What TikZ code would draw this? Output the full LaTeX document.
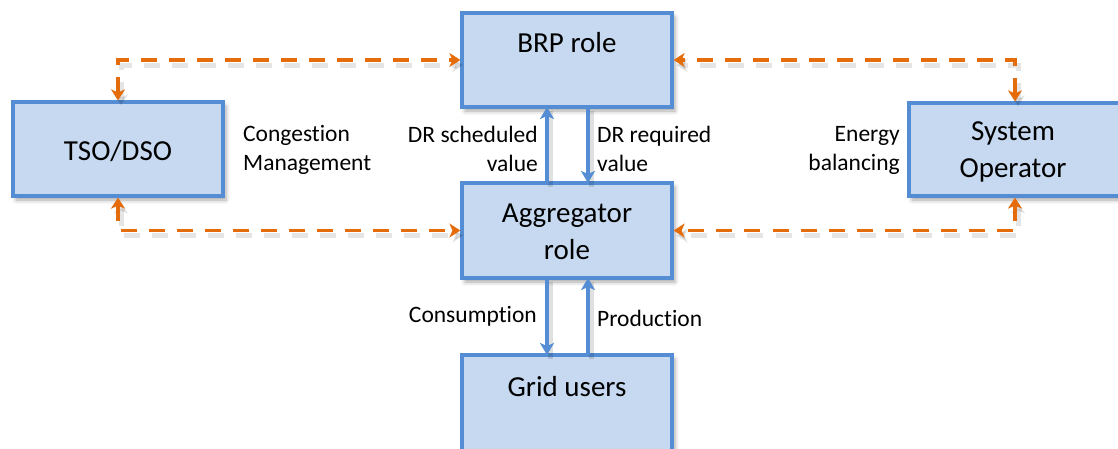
\documentclass[tikz,border=0pt]{standalone}
\usepackage{fontspec}
\setmainfont{Carlito}[Ligatures={NoCommon}]
\usetikzlibrary{arrows.meta,shadows.blur}

\definecolor{boxfill}{RGB}{198,217,241}
\definecolor{boxline}{RGB}{84,141,212}
\definecolor{flow}{RGB}{228,108,10}

\tikzset{
  ctrltip/.tip={Stealth[length=11pt,width=14pt,inset=3pt]},
  rolebox/.style={draw=boxline, fill=boxfill, line width=3.2pt, inner sep=0pt,
    blur shadow={shadow xshift=3pt, shadow yshift=-4pt, shadow blur radius=4pt, shadow opacity=35}},
  boxtext/.style={inner sep=0pt, align=center, font=\fontsize{29}{37}\selectfont},
  note/.style={inner sep=0pt, font=\fontsize{23.5}{29}\selectfont},
  dataflow/.style={draw=boxline, line width=3.2pt,
    -{Stealth[length=12pt,width=14pt,inset=3pt]},
    preaction={draw=black, opacity=0.12, line width=5pt, -,
      transform canvas={shift={(3pt,-4pt)}}}},
  ctrlflow/.style={draw=flow, line width=3.6pt, dash pattern=on 16pt off 12pt,
    ctrltip-ctrltip,
    preaction={draw=black, opacity=0.1, line width=5pt, dash pattern=on 16pt off 12pt,
      transform canvas={shift={(3pt,-5pt)}}}}
}

\begin{document}
\begin{tikzpicture}[x=1pt,y=-1pt]
  \useasboundingbox (0,0) rectangle (1118,448);
  \clip (0,0) rectangle (1118,448);

  % role boxes
  \node[rolebox, minimum width=210pt, minimum height=94pt] (brp) at (567,60) {};
  \node[rolebox, minimum width=210pt, minimum height=95pt] (agg) at (567,230.5) {};
  \node[rolebox, minimum width=210pt, minimum height=110pt] (grid) at (567,410) {};
  \node[rolebox, minimum width=210pt, minimum height=94pt] (tso) at (118,149) {};
  \node[rolebox, minimum width=212pt, minimum height=93pt] (so) at (1015,149.5) {};

  % box titles
  \node[boxtext] (brpt) at (567,43) {BRP role};
  \node[boxtext] (aggt) at (567,232) {Aggregator\\role};
  \node[boxtext] (gridt) at (567,387) {Grid users};
  \node[boxtext] (tsot) at (118,151) {TSO/DSO};
  \node[boxtext] (sot) at (1013,152) {System\\Operator};

  % control links (dashed, both directions)
  \draw[ctrlflow] (tso.north) |- (brp.west);
  \draw[ctrlflow] (tso.south) |- (agg.west);
  \draw[ctrlflow] (so.north) |- (brp.east);
  \draw[ctrlflow] (so.south) |- (agg.east);

  % data links
  \coordinate (aggTopL) at (547,183);
  \coordinate (brpBotL) at (547,107);
  \coordinate (brpBotR) at (588,107);
  \coordinate (aggTopR) at (588,183);
  \coordinate (aggBotL) at (547,278);
  \coordinate (gridTopL) at (547,355);
  \coordinate (gridTopR) at (588,355);
  \coordinate (aggBotR) at (588,278);
  \draw[dataflow] (aggTopL) -- (brpBotL);
  \draw[dataflow] (brpBotR) -- (aggTopR);
  \draw[dataflow] (aggBotL) -- (gridTopL);
  \draw[dataflow] (gridTopR) -- (aggBotR);

  % link labels
  \node[note, anchor=west, align=left] (cong) at (243,150) {Congestion\\Management};
  \node[note, anchor=east, align=right] (bal) at (900,150) {Energy\\balancing};
  \node[note, anchor=east, align=right] (sched) at (538,149) {DR scheduled\\value};
  \node[note, anchor=west, align=left] (req) at (597,149) {DR required\\value};
  \node[note, anchor=east] (cons) at (537,316) {Consumption};
  \node[note, anchor=west] (prod) at (597,318) {Production};
\end{tikzpicture}
\end{document}
